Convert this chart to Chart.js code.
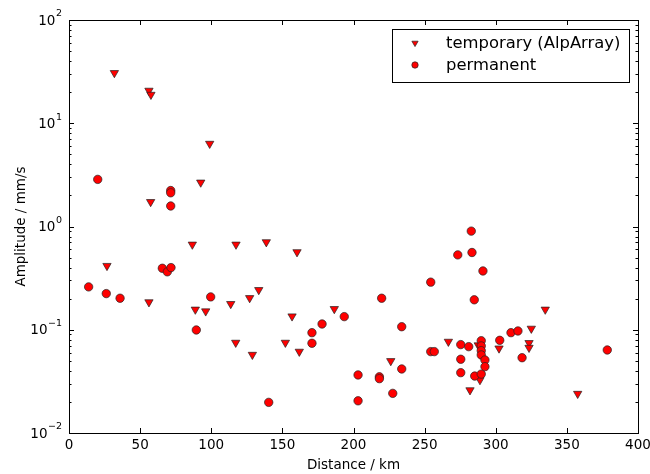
<!DOCTYPE html>
<html>
<head>
<meta charset="utf-8">
<script src="https://cdn.jsdelivr.net/npm/chart.js@4.4.1/dist/chart.umd.min.js"></script>
<style>
body { margin: 0; background: #fff; }
</style>
</head>
<body>
<canvas id="scatterChart" width="650" height="474"></canvas>
<script>
// temporary stations (AlpArray)
var tempDist = [31.9, 56.2, 57.6, 98.9, 92.6, 57.4, 86.7, 117.4, 138.7, 160.3, 26.7, 56.2,
  88.8, 96.1, 113.7, 127.0, 133.4, 156.8, 117.2, 128.9, 152.1, 161.9, 186.5, 226.2,
  266.7, 287.7, 288.9, 281.9, 302.3, 323.4, 323.4, 325.0, 334.8, 357.6];
var tempAmp = [30.7, 20.7, 18.9, 6.34, 2.67, 1.73, 0.669, 0.669, 0.706, 0.565, 0.416, 0.185,
  0.157, 0.151, 0.178, 0.203, 0.243, 0.135, 0.075, 0.0573, 0.075, 0.0614, 0.159, 0.0498,
  0.0767, 0.0708, 0.0326, 0.026, 0.066, 0.0745, 0.067, 0.1026, 0.157, 0.024];

// permanent stations
var permDist = [13.8, 20.2, 26.2, 35.9, 65.6, 69.1, 71.7, 71.5, 71.5, 71.5, 89.5, 99.6,
  140.4, 170.8, 170.8, 177.9, 193.5, 203.2, 203.2, 218.2, 218.2, 219.8, 227.6, 233.9,
  233.9, 254.3, 254.3, 256.8, 273.3, 275.4, 275.4, 275.4, 281.0, 282.8, 283.3, 284.9,
  285.2, 289.8, 289.8, 289.8, 289.8, 289.8, 291.0, 292.4, 292.4, 302.8, 310.7, 315.6,
  318.5, 378.4];
var permAmp = [0.26, 2.86, 0.224, 0.202, 0.394, 0.364, 0.40, 2.23, 2.12, 1.58, 0.0995, 0.208,
  0.0198, 0.0937, 0.074, 0.1137, 0.134, 0.0365, 0.0205, 0.035, 0.0336, 0.202, 0.0242, 0.107,
  0.0417, 0.289, 0.0614, 0.0614, 0.531, 0.0718, 0.0518, 0.0384, 0.0686, 0.902, 0.56, 0.195,
  0.0356, 0.0783, 0.0697, 0.0627, 0.057, 0.0372, 0.371, 0.0509, 0.0439, 0.079, 0.0937, 0.0973,
  0.0536, 0.0637];

var xTicks = [0, 50, 100, 150, 200, 250, 300, 350, 400];
var yDecades = [100, 10, 1, 0.1, 0.01];
var yTickExp = ['2', '1', '0', '\u22121', '\u22122'];
var legendLabels = ['temporary (AlpArray)', 'permanent'];

function toPoints(xs, ys) {
  return xs.map(function(x, i) { return {x: x, y: ys[i]}; });
}

var FONT = 'DejaVu Sans';

// frame, inward ticks, y labels with exponents, boxed legend
var axesDeco = {
  id: 'axesDeco',
  afterDraw: function(chart) {
    var ctx = chart.ctx;
    var a = chart.chartArea;
    var xs = chart.scales.x, ys = chart.scales.y;
    ctx.save();
    ctx.strokeStyle = '#000';
    ctx.lineWidth = 1;
    ctx.beginPath();
    xTicks.forEach(function(v) {
      var px = Math.round(xs.getPixelForValue(v)) + 0.5;
      ctx.moveTo(px, a.bottom); ctx.lineTo(px, a.bottom - 5);
      ctx.moveTo(px, a.top); ctx.lineTo(px, a.top + 5);
    });
    yDecades.forEach(function(d, i) {
      for (var k = 1; k <= 9; k++) {
        if (i === 0 && k > 1) break;
        var py = Math.round(ys.getPixelForValue(d * k)) + 0.5;
        var len = k === 1 ? 5 : 2.5;
        ctx.moveTo(a.left, py); ctx.lineTo(a.left + len, py);
        ctx.moveTo(a.right, py); ctx.lineTo(a.right - len, py);
      }
    });
    ctx.stroke();
    ctx.strokeRect(Math.round(a.left) + 0.5, Math.round(a.top) + 0.5,
      Math.round(a.right - a.left), Math.round(a.bottom - a.top));

    // y tick labels 10^n
    ctx.fillStyle = '#000';
    ctx.textBaseline = 'middle';
    yDecades.forEach(function(d, i) {
      var py = ys.getPixelForValue(d);
      ctx.font = '9.5px ' + FONT;
      var ew = ctx.measureText(yTickExp[i]).width;
      var right = a.left - 7;
      ctx.textAlign = 'left';
      ctx.fillText(yTickExp[i], right - ew, py - 6);
      ctx.font = '13.5px ' + FONT;
      ctx.textAlign = 'right';
      ctx.fillText('10', right - ew - 0.5, py + 1);
    });

    // legend
    var lx = 392.5, ly = 29.5, lw = 237, lh = 53;
    ctx.fillStyle = '#fff';
    ctx.fillRect(lx, ly, lw, lh);
    ctx.strokeRect(lx, ly, lw, lh);
    var rows = [43, 65];
    chart.data.datasets.forEach(function(ds, i) {
      ctx.fillStyle = ds.backgroundColor;
      ctx.strokeStyle = ds.borderColor;
      ctx.lineWidth = ds.borderWidth;
      Chart.helpers.drawPoint(ctx, {
        pointStyle: ds.pointStyle,
        radius: ds.pointStyle === 'triangle' ? 3.6 : 3.2,
        rotation: ds.rotation || 0,
        borderWidth: ds.borderWidth
      }, 415, rows[i]);
      ctx.fillStyle = '#000';
      ctx.font = '16.4px ' + FONT;
      ctx.textAlign = 'left';
      ctx.textBaseline = 'middle';
      ctx.fillText(legendLabels[i], 446, rows[i] + 1);
    });
    ctx.restore();
  }
};

var scatterChart = new Chart(document.getElementById('scatterChart'), {
  type: 'scatter',
  data: {
    datasets: [
      {
        label: legendLabels[0],
        data: toPoints(tempDist, tempAmp),
        pointStyle: 'triangle',
        rotation: 180,
        pointRadius: 4.8,
        backgroundColor: '#ff0000',
        borderColor: '#222',
        borderWidth: 0.7,
        order: 2
      },
      {
        label: legendLabels[1],
        data: toPoints(permDist, permAmp),
        pointStyle: 'circle',
        pointRadius: 4.2,
        backgroundColor: '#ff0000',
        borderColor: '#222',
        borderWidth: 0.7,
        order: 1
      }
    ]
  },
  options: {
    responsive: false,
    animation: false,
    layout: { padding: { top: 20, right: 12, left: 0, bottom: 0 } },
    plugins: { legend: { display: false }, tooltip: { enabled: false } },
    scales: {
      x: {
        type: 'linear',
        min: 0,
        max: 400,
        grid: { display: false, drawTicks: false },
        border: { display: false },
        ticks: {
          stepSize: 50,
          padding: 4,
          color: '#000',
          font: { family: FONT, size: 13.5 },
          maxRotation: 0
        },
        title: {
          display: true,
          text: 'Distance / km',
          color: '#000',
          font: { family: FONT, size: 13.5 },
          padding: { top: 0, bottom: 0 }
        },
        afterFit: function(scale) {
          scale.height = 41;
          scale.paddingRight = 0;
          scale.paddingLeft = 0;
        }
      },
      y: {
        type: 'logarithmic',
        min: 0.01,
        max: 100,
        grid: { display: false, drawTicks: false },
        border: { display: false },
        ticks: { display: false },
        title: {
          display: true,
          text: 'Amplitude / mm/s',
          color: '#000',
          font: { family: FONT, size: 13.5 },
          padding: { top: 13, bottom: 0 }
        },
        afterFit: function(scale) { scale.width = 69; }
      }
    }
  },
  plugins: [axesDeco]
});
</script>
</body>
</html>
